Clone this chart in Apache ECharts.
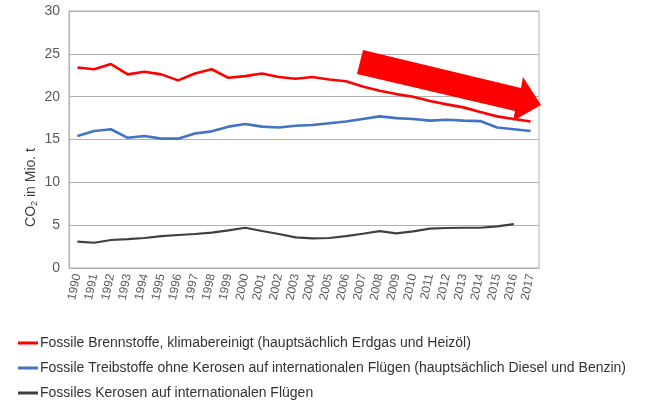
<!DOCTYPE html>
<html>
<head>
<meta charset="utf-8">
<script src="https://cdn.jsdelivr.net/npm/echarts@6/dist/echarts.min.js"></script>
<style>
  html, body { margin: 0; padding: 0; background: #fff; }
  #chart { width: 646px; height: 402px; }
</style>
</head>
<body>
<div id="chart"></div>
<script>
  const years = ['1990', '1991', '1992', '1993', '1994', '1995', '1996', '1997', '1998', '1999',
    '2000', '2001', '2002', '2003', '2004', '2005', '2006', '2007', '2008', '2009',
    '2010', '2011', '2012', '2013', '2014', '2015', '2016', '2017']

  const brennstoffe = [23.4, 23.2, 23.8, 22.6, 22.9, 22.6, 21.9, 22.7, 23.2, 22.2,
    22.4, 22.7, 22.3, 22.1, 22.3, 22.0, 21.8, 21.2, 20.7, 20.3,
    20.0, 19.5, 19.1, 18.75, 18.2, 17.7, 17.4, 17.1]

  const treibstoffe = [15.4, 16.0, 16.2, 15.2, 15.4, 15.1, 15.1, 15.7, 15.95, 16.5,
    16.8, 16.5, 16.4, 16.6, 16.7, 16.9, 17.1, 17.4, 17.7, 17.5,
    17.4, 17.2, 17.3, 17.2, 17.15, 16.4, 16.2, 16.0]

  const kerosen = [3.07, 2.95, 3.27, 3.38, 3.5, 3.73, 3.85, 3.97, 4.12, 4.4,
    4.7, 4.32, 3.97, 3.58, 3.46, 3.5, 3.73, 4.0, 4.3, 4.05,
    4.28, 4.6, 4.67, 4.7, 4.7, 4.86, 5.13, null]

  const names = [
    'Fossile Brennstoffe, klimabereinigt (hauptsächlich Erdgas und Heizöl)',
    'Fossile Treibstoffe ohne Kerosen auf internationalen Flügen (hauptsächlich Diesel und Benzin)',
    'Fossiles Kerosen auf internationalen Flügen'
  ]
  const colors = ['#ff0000', '#4472c4', '#404040']

  const chart = echarts.init(document.getElementById('chart'))

  function makeSeries(name, data, color, width) {
    return {
      name: name,
      type: 'line',
      data: data,
      symbol: 'none',
      smooth: false,
      lineStyle: { color: color, width: width },
      itemStyle: { color: color }
    }
  }

  const option = {
    animation: false,
    textStyle: { fontFamily: 'Liberation Sans' },
    grid: {
      left: 69,
      right: 107,
      top: 11,
      bottom: 134,
      show: true,
      borderColor: '#b0b0b0',
      borderWidth: 1
    },
    legend: {
      orient: 'vertical',
      left: 18,
      top: 336,
      height: 66,
      padding: 0,
      itemWidth: 20,
      itemHeight: 3,
      itemGap: 11,
      icon: 'rect',
      data: names,
      textStyle: { fontSize: 14, color: '#333', fontFamily: 'Liberation Sans', padding: [0, 0, 0, -3] }
    },
    xAxis: {
      type: 'category',
      boundaryGap: true,
      data: years,
      axisTick: { show: false },
      axisLine: { lineStyle: { color: '#b0b0b0' } },
      axisLabel: {
        rotate: 78,
        fontSize: 12,
        color: '#595959',
        interval: 0,
        margin: 6
      }
    },
    yAxis: {
      type: 'value',
      min: 0,
      max: 30,
      interval: 5,
      name: 'CO{sub|2} in Mio. t',
      nameLocation: 'middle',
      nameGap: 30,
      nameMoveOverlap: false,
      nameTextStyle: {
        fontSize: 14,
        color: '#404040',
        padding: [0, 96, 0, 0],
        rich: {
          sub: { fontSize: 9, verticalAlign: 'bottom', padding: [6, 0, 0, 0], color: '#404040' }
        }
      },
      axisLine: { show: true, lineStyle: { color: '#b0b0b0' } },
      axisTick: { show: false },
      splitLine: { lineStyle: { color: '#b0b0b0' } },
      axisLabel: { fontSize: 14, color: '#595959', margin: 9 }
    },
    graphic: [
      {
        type: 'polygon',
        shape: {
          points: [[363, 50], [521, 88], [523, 77], [541, 105], [513, 121], [515, 111], [357, 74]]
        },
        style: { fill: '#ff0000' },
        z: 100
      }
    ],
    series: [
      makeSeries(names[0], brennstoffe, colors[0], 2.6),
      makeSeries(names[1], treibstoffe, colors[1], 2.6),
      makeSeries(names[2], kerosen, colors[2], 2.2)
    ]
  }

  chart.setOption(option)
</script>
</body>
</html>
